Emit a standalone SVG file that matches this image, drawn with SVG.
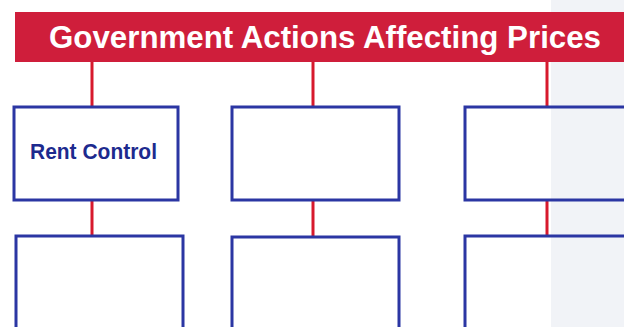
<svg xmlns="http://www.w3.org/2000/svg" width="624" height="327" viewBox="0 0 624 327">
  <style>
    .box { fill: none; stroke: #2b36a3; stroke-width: 3; }
    .conn { stroke: #d7192d; stroke-width: 3; fill: none; }
    .title { font-family: "Liberation Sans", Arial, sans-serif; font-weight: bold; font-size: 31px; fill: #ffffff; }
    .label { font-family: "Liberation Sans", Arial, sans-serif; font-weight: bold; font-size: 21.5px; fill: #1d2a8e; }
  </style>
  <rect x="0" y="0" width="624" height="327" fill="#ffffff"/>
  <rect x="551" y="0" width="73" height="327" fill="#f1f3f7"/>
  <g id="header">
    <rect x="15" y="12" width="609" height="50" fill="#cf1e3b"/>
    <text class="title" x="49" y="48" textLength="552" lengthAdjust="spacingAndGlyphs">Government Actions Affecting Prices</text>
  </g>
  <g id="connectors">
    <line class="conn" x1="92" y1="62" x2="92" y2="107"/>
    <line class="conn" x1="313" y1="62" x2="313" y2="107"/>
    <line class="conn" x1="547" y1="62" x2="547" y2="107"/>
    <line class="conn" x1="92" y1="200" x2="92" y2="236"/>
    <line class="conn" x1="313" y1="200" x2="313" y2="237"/>
    <line class="conn" x1="547" y1="200" x2="547" y2="236"/>
  </g>
  <g id="rent-control">
    <rect class="box" x="14" y="107" width="164" height="93"/>
    <text class="label" x="30" y="159" textLength="127" lengthAdjust="spacingAndGlyphs">Rent Control</text>
  </g>
  <g id="box-top-middle">
    <rect class="box" x="232" y="107" width="167" height="93"/>
  </g>
  <g id="box-top-right">
    <rect class="box" x="465" y="107" width="170" height="93"/>
  </g>
  <g id="box-bottom-left">
    <rect class="box" x="16" y="236" width="167" height="100"/>
  </g>
  <g id="box-bottom-middle">
    <rect class="box" x="232" y="237" width="167" height="100"/>
  </g>
  <g id="box-bottom-right">
    <rect class="box" x="465" y="236" width="170" height="100"/>
  </g>
</svg>
